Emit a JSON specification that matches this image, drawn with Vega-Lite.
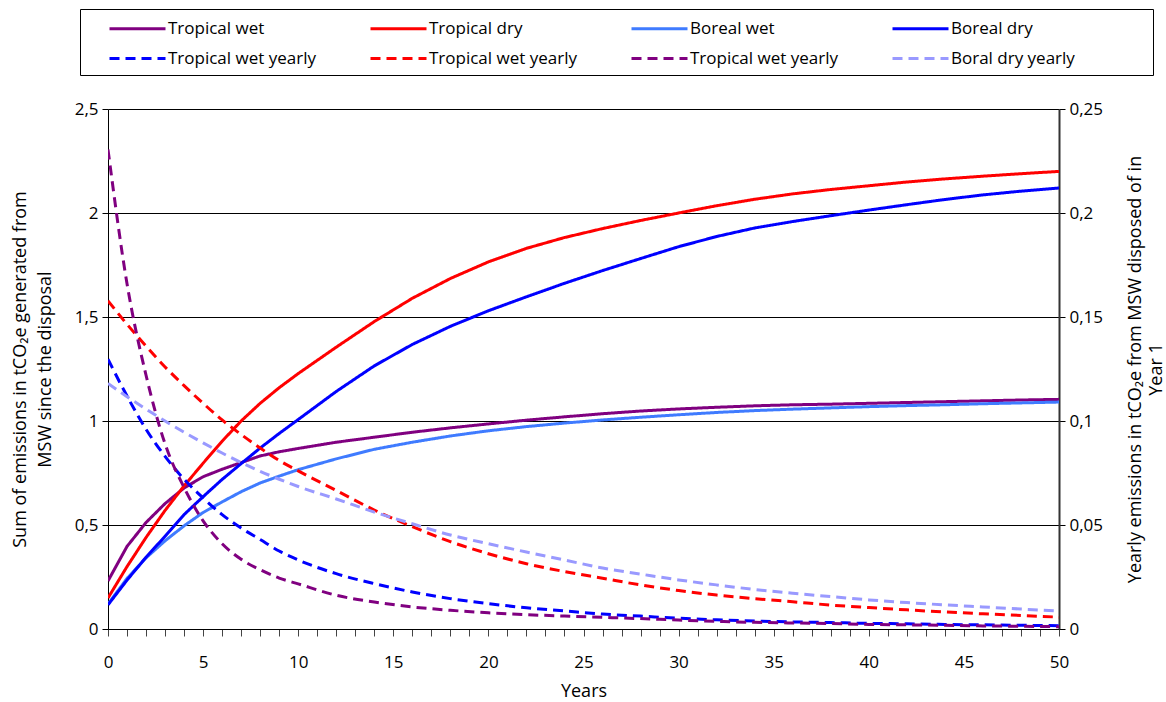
{
  "$schema": "https://vega.github.io/schema/vega-lite/v6.json",
  "width": 951,
  "height": 520,
  "autosize": {"type": "none"},
  "padding": {"left": 108, "top": 109, "right": 107, "bottom": 73},
  "background": "white",
  "config": {
    "font": "Open Sans",
    "view": {"stroke": null},
    "axis": {
      "labelFont": "Open Sans",
      "titleFont": "Open Sans",
      "labelFontSize": 17,
      "titleFontSize": 18,
      "titleFontWeight": "normal",
      "labelColor": "black",
      "titleColor": "black",
      "domainColor": "black",
      "tickColor": "black",
      "gridColor": "black",
      "labelFlush": false,
      "labelOverlap": false
    },
    "legend": {"labelFont": "Open Sans", "labelColor": "black"}
  },
  "datasets": {
    "sums": [
      {"year": 0, "Tropical wet": 0.231, "Tropical dry": 0.149, "Boreal wet": 0.120, "Boreal dry": 0.116},
      {"year": 1, "Tropical wet": 0.397, "Tropical dry": 0.300, "Boreal wet": 0.243, "Boreal dry": 0.235},
      {"year": 2, "Tropical wet": 0.512, "Tropical dry": 0.440, "Boreal wet": 0.342, "Boreal dry": 0.345},
      {"year": 3, "Tropical wet": 0.603, "Tropical dry": 0.570, "Boreal wet": 0.424, "Boreal dry": 0.446},
      {"year": 4, "Tropical wet": 0.678, "Tropical dry": 0.688, "Boreal wet": 0.496, "Boreal dry": 0.550},
      {"year": 5, "Tropical wet": 0.732, "Tropical dry": 0.797, "Boreal wet": 0.560, "Boreal dry": 0.636},
      {"year": 6, "Tropical wet": 0.768, "Tropical dry": 0.903, "Boreal wet": 0.611, "Boreal dry": 0.719},
      {"year": 7, "Tropical wet": 0.800, "Tropical dry": 1.000, "Boreal wet": 0.660, "Boreal dry": 0.795},
      {"year": 8, "Tropical wet": 0.832, "Tropical dry": 1.085, "Boreal wet": 0.702, "Boreal dry": 0.870},
      {"year": 9, "Tropical wet": 0.852, "Tropical dry": 1.160, "Boreal wet": 0.735, "Boreal dry": 0.940},
      {"year": 10, "Tropical wet": 0.868, "Tropical dry": 1.228, "Boreal wet": 0.766, "Boreal dry": 1.007},
      {"year": 12, "Tropical wet": 0.898, "Tropical dry": 1.355, "Boreal wet": 0.818, "Boreal dry": 1.142},
      {"year": 14, "Tropical wet": 0.922, "Tropical dry": 1.478, "Boreal wet": 0.864, "Boreal dry": 1.265},
      {"year": 16, "Tropical wet": 0.946, "Tropical dry": 1.590, "Boreal wet": 0.898, "Boreal dry": 1.368},
      {"year": 18, "Tropical wet": 0.967, "Tropical dry": 1.685, "Boreal wet": 0.928, "Boreal dry": 1.455},
      {"year": 20, "Tropical wet": 0.986, "Tropical dry": 1.765, "Boreal wet": 0.953, "Boreal dry": 1.530},
      {"year": 22, "Tropical wet": 1.004, "Tropical dry": 1.830, "Boreal wet": 0.973, "Boreal dry": 1.597},
      {"year": 24, "Tropical wet": 1.020, "Tropical dry": 1.882, "Boreal wet": 0.990, "Boreal dry": 1.662},
      {"year": 26, "Tropical wet": 1.035, "Tropical dry": 1.925, "Boreal wet": 1.005, "Boreal dry": 1.723},
      {"year": 28, "Tropical wet": 1.048, "Tropical dry": 1.964, "Boreal wet": 1.018, "Boreal dry": 1.781},
      {"year": 30, "Tropical wet": 1.058, "Tropical dry": 2.000, "Boreal wet": 1.030, "Boreal dry": 1.838},
      {"year": 32, "Tropical wet": 1.066, "Tropical dry": 2.035, "Boreal wet": 1.041, "Boreal dry": 1.887},
      {"year": 34, "Tropical wet": 1.073, "Tropical dry": 2.066, "Boreal wet": 1.050, "Boreal dry": 1.928},
      {"year": 36, "Tropical wet": 1.078, "Tropical dry": 2.092, "Boreal wet": 1.057, "Boreal dry": 1.959},
      {"year": 38, "Tropical wet": 1.081, "Tropical dry": 2.113, "Boreal wet": 1.063, "Boreal dry": 1.987},
      {"year": 40, "Tropical wet": 1.085, "Tropical dry": 2.131, "Boreal wet": 1.069, "Boreal dry": 2.014},
      {"year": 42, "Tropical wet": 1.089, "Tropical dry": 2.149, "Boreal wet": 1.074, "Boreal dry": 2.040},
      {"year": 44, "Tropical wet": 1.093, "Tropical dry": 2.164, "Boreal wet": 1.078, "Boreal dry": 2.065},
      {"year": 46, "Tropical wet": 1.097, "Tropical dry": 2.177, "Boreal wet": 1.083, "Boreal dry": 2.087},
      {"year": 48, "Tropical wet": 1.101, "Tropical dry": 2.189, "Boreal wet": 1.087, "Boreal dry": 2.105},
      {"year": 50, "Tropical wet": 1.104, "Tropical dry": 2.200, "Boreal wet": 1.091, "Boreal dry": 2.120}
    ],
    "yearly": [
      {"year": 0, "Tropical wet yearly (blue)": 0.1297, "Tropical wet yearly (red)": 0.1578, "Tropical wet yearly (purple)": 0.2305, "Boral dry yearly": 0.1181},
      {"year": 1, "Tropical wet yearly (blue)": 0.1120, "Tropical wet yearly (red)": 0.1465, "Tropical wet yearly (purple)": 0.1660, "Boral dry yearly": 0.1117},
      {"year": 2, "Tropical wet yearly (blue)": 0.0960, "Tropical wet yearly (red)": 0.1360, "Tropical wet yearly (purple)": 0.1220, "Boral dry yearly": 0.1057},
      {"year": 3, "Tropical wet yearly (blue)": 0.0830, "Tropical wet yearly (red)": 0.1260, "Tropical wet yearly (purple)": 0.0890, "Boral dry yearly": 0.1000},
      {"year": 4, "Tropical wet yearly (blue)": 0.0720, "Tropical wet yearly (red)": 0.1170, "Tropical wet yearly (purple)": 0.0680, "Boral dry yearly": 0.0946},
      {"year": 5, "Tropical wet yearly (blue)": 0.0630, "Tropical wet yearly (red)": 0.1085, "Tropical wet yearly (purple)": 0.0520, "Boral dry yearly": 0.0895},
      {"year": 6, "Tropical wet yearly (blue)": 0.0550, "Tropical wet yearly (red)": 0.1005, "Tropical wet yearly (purple)": 0.0410, "Boral dry yearly": 0.0846},
      {"year": 7, "Tropical wet yearly (blue)": 0.0485, "Tropical wet yearly (red)": 0.0935, "Tropical wet yearly (purple)": 0.0335, "Boral dry yearly": 0.0800},
      {"year": 8, "Tropical wet yearly (blue)": 0.0430, "Tropical wet yearly (red)": 0.0870, "Tropical wet yearly (purple)": 0.0285, "Boral dry yearly": 0.0758},
      {"year": 9, "Tropical wet yearly (blue)": 0.0375, "Tropical wet yearly (red)": 0.0810, "Tropical wet yearly (purple)": 0.0245, "Boral dry yearly": 0.0720},
      {"year": 10, "Tropical wet yearly (blue)": 0.0332, "Tropical wet yearly (red)": 0.0760, "Tropical wet yearly (purple)": 0.0217, "Boral dry yearly": 0.0685},
      {"year": 12, "Tropical wet yearly (blue)": 0.0266, "Tropical wet yearly (red)": 0.0666, "Tropical wet yearly (purple)": 0.0162, "Boral dry yearly": 0.0625},
      {"year": 14, "Tropical wet yearly (blue)": 0.0218, "Tropical wet yearly (red)": 0.0572, "Tropical wet yearly (purple)": 0.0130, "Boral dry yearly": 0.0562},
      {"year": 16, "Tropical wet yearly (blue)": 0.0178, "Tropical wet yearly (red)": 0.0492, "Tropical wet yearly (purple)": 0.0106, "Boral dry yearly": 0.0506},
      {"year": 18, "Tropical wet yearly (blue)": 0.0146, "Tropical wet yearly (red)": 0.0420, "Tropical wet yearly (purple)": 0.0090, "Boral dry yearly": 0.0452},
      {"year": 20, "Tropical wet yearly (blue)": 0.0122, "Tropical wet yearly (red)": 0.0362, "Tropical wet yearly (purple)": 0.0078, "Boral dry yearly": 0.0410},
      {"year": 22, "Tropical wet yearly (blue)": 0.0102, "Tropical wet yearly (red)": 0.0314, "Tropical wet yearly (purple)": 0.0069, "Boral dry yearly": 0.0370},
      {"year": 24, "Tropical wet yearly (blue)": 0.0087, "Tropical wet yearly (red)": 0.0276, "Tropical wet yearly (purple)": 0.0062, "Boral dry yearly": 0.0332},
      {"year": 26, "Tropical wet yearly (blue)": 0.0072, "Tropical wet yearly (red)": 0.0244, "Tropical wet yearly (purple)": 0.0056, "Boral dry yearly": 0.0293},
      {"year": 28, "Tropical wet yearly (blue)": 0.0062, "Tropical wet yearly (red)": 0.0212, "Tropical wet yearly (purple)": 0.0050, "Boral dry yearly": 0.0264},
      {"year": 30, "Tropical wet yearly (blue)": 0.0052, "Tropical wet yearly (red)": 0.0185, "Tropical wet yearly (purple)": 0.0043, "Boral dry yearly": 0.0236},
      {"year": 32, "Tropical wet yearly (blue)": 0.0044, "Tropical wet yearly (red)": 0.0163, "Tropical wet yearly (purple)": 0.0037, "Boral dry yearly": 0.0212},
      {"year": 34, "Tropical wet yearly (blue)": 0.0038, "Tropical wet yearly (red)": 0.0146, "Tropical wet yearly (purple)": 0.0032, "Boral dry yearly": 0.0190},
      {"year": 36, "Tropical wet yearly (blue)": 0.0034, "Tropical wet yearly (red)": 0.0131, "Tropical wet yearly (purple)": 0.0029, "Boral dry yearly": 0.0172},
      {"year": 38, "Tropical wet yearly (blue)": 0.0031, "Tropical wet yearly (red)": 0.0115, "Tropical wet yearly (purple)": 0.0026, "Boral dry yearly": 0.0156},
      {"year": 40, "Tropical wet yearly (blue)": 0.0027, "Tropical wet yearly (red)": 0.0103, "Tropical wet yearly (purple)": 0.0022, "Boral dry yearly": 0.0140},
      {"year": 42, "Tropical wet yearly (blue)": 0.0025, "Tropical wet yearly (red)": 0.0092, "Tropical wet yearly (purple)": 0.0020, "Boral dry yearly": 0.0127},
      {"year": 44, "Tropical wet yearly (blue)": 0.0022, "Tropical wet yearly (red)": 0.0082, "Tropical wet yearly (purple)": 0.0018, "Boral dry yearly": 0.0116},
      {"year": 46, "Tropical wet yearly (blue)": 0.0020, "Tropical wet yearly (red)": 0.0073, "Tropical wet yearly (purple)": 0.0015, "Boral dry yearly": 0.0106},
      {"year": 48, "Tropical wet yearly (blue)": 0.0018, "Tropical wet yearly (red)": 0.0065, "Tropical wet yearly (purple)": 0.0013, "Boral dry yearly": 0.0096},
      {"year": 50, "Tropical wet yearly (blue)": 0.0016, "Tropical wet yearly (red)": 0.0057, "Tropical wet yearly (purple)": 0.0011, "Boral dry yearly": 0.0087}
    ]
  },
  "encoding": {
    "x": {
      "field": "year", "type": "quantitative",
      "scale": {"domain": [0, 50], "nice": false},
      "axis": {
        "values": [0,1,2,3,4,5,6,7,8,9,10,11,12,13,14,15,16,17,18,19,20,21,22,23,24,25,26,27,28,29,30,31,32,33,34,35,36,37,38,39,40,41,42,43,44,45,46,47,48,49,50],
        "format": "d",
        "labelExpr": "datum.value % 5 == 0 ? datum.label : ''",
        "grid": false,
        "tickSize": 7,
        "tickColor": "#444",
        "labelPadding": 18,
        "title": "Years",
        "titlePadding": 12
      }
    }
  },
  "layer": [
    {
      "data": {"name": "sums"},
      "transform": [{"fold": ["Tropical wet", "Tropical dry", "Boreal wet", "Boreal dry"], "as": ["series", "value"]}],
      "mark": {"type": "line", "interpolate": "linear", "clip": true},
      "encoding": {
        "y": {
          "field": "value", "type": "quantitative",
          "scale": {"domain": [0, 2.5], "nice": false},
          "axis": {
            "values": [0, 0.5, 1, 1.5, 2, 2.5],
            "format": "~g",
            "labelExpr": "replace(datum.label, '.', ',')",
            "grid": true,
            "gridColor": "black",
            "gridWidth": 1,
            "tickSize": 6,
            "labelPadding": 4,
            "title": ["Sum of emissions in tCO₂e generated from", "MSW since the disposal"],
            "titleLineHeight": 25,
            "titlePadding": 20
          }
        },
        "color": {
          "field": "series", "type": "nominal",
          "scale": {
            "domain": ["Tropical wet", "Tropical dry", "Boreal wet", "Boreal dry", "Tropical wet yearly (blue)", "Tropical wet yearly (red)", "Tropical wet yearly (purple)", "Boral dry yearly"],
            "range": ["#800080", "#FF0000", "#3F7BFF", "#0000FF", "#0000FF", "#FF0000", "#800080", "#9999FF"]
          },
          "legend": {
            "orient": "none",
            "legendX": -28,
            "legendY": -100,
            "direction": "horizontal",
            "columns": 4,
            "title": "\u00a0",
            "titleOrient": "right",
            "titlePadding": 70,
            "titleFontSize": 10,
            "symbolType": "M-2.8,0H2.8",
            "symbolSize": 400,
            "symbolOffset": 38,
            "labelFontSize": 17,
            "labelOffset": 19,
            "gridAlign": "all",
            "columnPadding": 33,
            "rowPadding": 10,
            "padding": 8,
            "strokeColor": "black",
            "labelExpr": "indexof(datum.label, ' (') > 0 ? substring(datum.label, 0, indexof(datum.label, ' (')) : datum.label"
          }
        },
        "strokeDash": {
          "field": "series", "type": "nominal",
          "scale": {
            "domain": ["Tropical wet", "Tropical dry", "Boreal wet", "Boreal dry", "Tropical wet yearly (blue)", "Tropical wet yearly (red)", "Tropical wet yearly (purple)", "Boral dry yearly"],
            "range": [[1, 0], [1, 0], [1, 0], [1, 0], [10, 6], [10, 6], [10, 6], [10, 6]]
          }
        },
        "strokeWidth": {
          "field": "series", "type": "nominal",
          "scale": {
            "domain": ["Tropical wet", "Tropical dry", "Boreal wet", "Boreal dry", "Tropical wet yearly (blue)", "Tropical wet yearly (red)", "Tropical wet yearly (purple)", "Boral dry yearly"],
            "range": [3, 3, 3, 3, 1.5, 1.5, 1.5, 1.5]
          }
        }
      }
    },
    {
      "data": {"name": "yearly"},
      "transform": [{"fold": ["Tropical wet yearly (blue)", "Tropical wet yearly (red)", "Tropical wet yearly (purple)", "Boral dry yearly"], "as": ["series", "value"]}],
      "mark": {"type": "line", "interpolate": "monotone", "clip": true},
      "encoding": {
        "y": {
          "field": "value", "type": "quantitative",
          "scale": {"domain": [0, 0.25], "nice": false},
          "axis": {
            "orient": "right",
            "values": [0, 0.05, 0.1, 0.15, 0.2, 0.25],
            "format": "~g",
            "labelExpr": "replace(datum.label, '.', ',')",
            "grid": false,
            "tickSize": 6,
            "labelPadding": 4,
            "domainColor": "#333",
            "domainWidth": 2,
            "title": ["Yearly emissions in tCO₂e from MSW disposed of in", "Year 1"],
            "titleAngle": 270,
            "titleBaseline": "top",
            "titleLineHeight": 21,
            "titlePadding": 3
          }
        },
        "color": {"field": "series", "type": "nominal"},
        "strokeDash": {"field": "series", "type": "nominal"},
        "strokeWidth": {"field": "series", "type": "nominal"}
      }
    }
  ],
  "resolve": {"scale": {"y": "independent"}}
}
